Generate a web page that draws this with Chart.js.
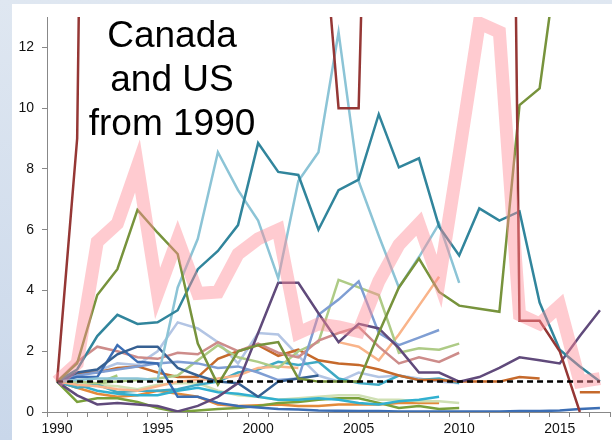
<!DOCTYPE html>
<html>
<head>
<meta charset="utf-8">
<script src="https://cdn.jsdelivr.net/npm/chart.js@4.4.0/dist/chart.umd.min.js"></script>
<style>
  html, body { margin: 0; padding: 0; }
  #frame {
    position: relative; width: 612px; height: 440px; overflow: hidden;
    background: linear-gradient(180deg, #dfe7f1 0%, #c9d7ea 100%);
  }
  #paper { position: absolute; left: 12px; top: 4px; right: 0; bottom: 0; background: #fff; }
  #wrap { position: absolute; left: 0; top: 0; width: 612px; height: 440px; }
</style>
</head>
<body>
<div id="frame">
  <div id="paper"></div>
  <div id="wrap"><canvas id="myChart" width="612" height="440"></canvas></div>
</div>
<script>
'use strict'

// tick labels / categories
const years = [1990, 1991, 1992, 1993, 1994, 1995, 1996, 1997, 1998, 1999,
	2000, 2001, 2002, 2003, 2004, 2005, 2006, 2007, 2008, 2009,
	2010, 2011, 2012, 2013, 2014, 2015, 2016, 2017]
const yTicks = [0, 2, 4, 6, 8, 10, 12]

// series, index relative to 1990 (values off the top are estimates)
const average = [1, 1.6, 5.6, 6.2, 8.1, 3.9, 5.7, 3.9, 3.95, 5.2, 5.7, 6.0, 2.6, 2.9, 2.8, 2.65, 4.3, 5.5, 6.2, 4.3, 8.5, 12.8, 12.5, 3.2, 2.9, 3.5, 1.0, 1.1]
const baseline = [1, 1, 1, 1, 1, 1, 1, 1, 1, 1, 1, 1, 1, 1, 1, 1, 1, 1, 1, 1, 1, 1, 1, 1, 1, 1, 1, 1]
const darkRed = [1, 9, 60, 60, 60, 60, 60, 60, 60, 60, 60, 60, 60, 18, 10, 10, 35, 60, 60, 60, 60, 60, 60, 3.0, 3.0, 2.0, 0]
const olive = [1, 1.6, 3.85, 4.7, 6.65, 5.9, 5.2, 2.25, 0.9, 2.0, 2.2, 2.3, 1.1, 1.0, 1.0, 1.0, 2.6, 4.1, 5.05, 3.95, 3.5, 3.4, 3.3, 10.1, 10.65, 15.5]
const skyBlue = [1, 1.05, 1.1, 1.1, 1.1, 1.05, 4.1, 5.7, 8.55, 7.3, 6.3, 4.4, 7.6, 8.55, 12.5, 7.6, 5.8, 4.1, 5.1, 6.2, 4.25]
const teal = [1, 1.4, 2.5, 3.2, 2.9, 2.95, 3.35, 4.7, 5.3, 6.15, 8.85, 7.9, 7.8, 6.0, 7.3, 7.65, 9.8, 8.05, 8.35, 6.1, 5.15, 6.7, 6.3, 6.6, 3.6, 2.05, 1.5, 1.0]
const purple = [1, 0.55, 0.25, 0.3, 0.25, 0.2, 0.02, 0.2, 0.5, 0.95, 2.6, 4.25, 4.25, 3.25, 2.3, 2.9, 2.75, 2.1, 1.3, 1.3, 1.0, 1.15, 1.45, 1.8, 1.7, 1.6, 2.5, 3.35]
const blueA = [1, 1.15, 1.15, 2.2, 1.65, 1.6, 0.5, 0.5, 0.3, 0.2, 0.15, 0.1, 0.08, 0.05, 0.04, 0.03, 0.03, 0.02, 0.02, 0.02, 0.02, 0.02, 0.02, 0.03, 0.03, 0.05, 0.1, 0.13]
const blueB = [1, 1.3, 1.4, 1.9, 2.15, 2.15, 1.45, 1.2, 1.0, 0.95, 0.5, 1.0, 1.1, 1.2]
const lavender = [1, 1.2, 1.35, 1.6, 1.55, 2.0, 2.95, 2.75, 2.3, 1.6, 2.6, 2.55, 1.85, 1.2, 1.0, 1.3, 1.15, 1.2, 1.1, 1.0, 0.95]
const periwinkle = [1, 1.2, 1.3, 1.4, 1.5, 1.6, 1.65, 1.6, 1.45, 1.5, 1.3, 1.05, 1.1, 3.2, 3.7, 4.3, 2.6, 2.2, 2.45, 2.7]
const rose = [1, 1.65, 2.15, 2.0, 1.8, 1.75, 1.95, 1.9, 2.3, 2.0, 2.25, 1.95, 1.8, 2.35, 2.6, 2.8, 2.15, 1.6, 1.8, 1.65, 1.95]
const lightGreen = [1, 1.0, 0.95, 1.0, 1.05, 1.1, 1.2, 1.7, 2.2, 1.8, 1.65, 1.45, 2.0, 2.3, 4.35, 4.1, 3.85, 1.95, 2.1, 2.05, 2.25]
const orange = [1, 1.28, 1.3, 1.45, 1.5, 1.3, 1.15, 1.15, 1.75, 2.0, 2.2, 1.85, 2.05, 1.7, 1.6, 1.55, 1.4, 1.2, 1.05, 1.05, 1.0, 1.0, 1.0, 1.15, 1.1, null, 0.65, 0.65]
const peach = [1, 0.9, 0.85, 0.75, 0.7, 0.85, 1.0, 1.05, 1.1, 1.2, 1.45, 1.5, 1.45, null, 2.3, 2.15, 1.7, 2.55, 3.5, 4.45]
const cyan = [1, 0.8, 0.9, 0.65, 0.7, 0.7, 0.75, 0.9, 1.0, 1.3, 1.4, 1.65, 1.55, 1.65, 1.1, 0.95, 0.9, 1.2, 1.05, 1.1, 0.95]
const cyanLow = [1, 0.9, 0.7, 0.6, 0.55, 0.55, 0.7, 0.8, 0.65, 0.6, 0.5, 0.4, 0.4, 0.45, 0.4, 0.3, 0.25, 0.35, 0.4, 0.5]
const paleGreen = [1, 0.95, 0.9, 0.85, 0.75, 0.9, 0.95, 0.95, 0.7, 0.55, 0.5, 0.4, 0.45, 0.5, 0.55, 0.55, 0.4, 0.4, 0.35, 0.35, 0.3]
const oliveLow = [1, 0.33, 0.45, 0.45, 0.33, 0.13, 0.0, 0.05, 0.1, 0.13, 0.2, 0.3, 0.33, 0.4, 0.45, 0.45, 0.3, 0.13, 0.2, 0.1, 0.13]
const orangeLow = [1, 0.8, 0.6, 0.5, 0.55, 0.7, 0.6, 0.5, 0.25, 0.2, 0.22, 0.25, 0.2, 0.2, 0.25, 0.25, 0.25, 0.3, 0.3, 0.3]
const shortGreen = [1, 0.95, 0.95, 1.2]

const titleLines = ['Canada', 'and US', 'from 1990']

function line(data, color, width) {
	return { data: data, borderColor: color, borderWidth: width || 2.5, pointRadius: 0, tension: 0, fill: false }
}

// first dataset is drawn on top
const datasets = [
	line(average, 'rgba(255,140,150,0.45)', 13),
	Object.assign(line(baseline, '#000', 2.5), { borderDash: [6, 4] }),
	line(darkRed, '#953735'),
	line(olive, '#77933C'),
	line(teal, '#31859C'),
	line(skyBlue, '#8CC4D6'),
	line(purple, '#604A7B'),
	line(blueB, '#366092'),
	line(blueA, '#3C6EB4'),
	line(periwinkle, '#7F9ED3'),
	line(rose, '#CD8C8A'),
	line(lightGreen, '#AECB86'),
	line(orange, '#C5692B'),
	line(peach, '#F9B48A'),
	line(cyan, '#3FA9C4'),
	line(lavender, '#B3C5E4'),
	line(cyanLow, '#31B0D0'),
	line(paleGreen, '#CFE0B4'),
	line(oliveLow, '#7AA03A'),
	line(orangeLow, '#E38A3A'),
	line(shortGreen, '#A6C97C')
]

const titlePlugin = {
	id: 'titleText',
	afterDraw(chart) {
		const ctx = chart.ctx
		ctx.save()
		ctx.fillStyle = '#000'
		ctx.font = '37px "Liberation Sans", Arial, sans-serif'
		ctx.textAlign = 'center'
		ctx.textBaseline = 'alphabetic'
		titleLines.forEach((t, i) => ctx.fillText(t, 172, 47 + i * 44))
		ctx.restore()
	}
}

const chartElement = document.querySelector('#myChart')
if (chartElement == null) {
	console.error('Chart not found.')
} else {
	new Chart(chartElement, {
		type: 'line',
		data: { labels: years, datasets: datasets },
		options: {
			responsive: false,
			animation: false,
			layout: { padding: { top: 17, right: 2, left: 0, bottom: 0 } },
			plugins: { legend: { display: false }, tooltip: { enabled: false } },
			scales: {
				x: {
					offset: true,
					grid: { offset: true, drawOnChartArea: false, drawTicks: true, tickLength: 5, color: '#888' },
					border: { color: '#888', width: 1 },
					ticks: {
						autoSkip: false, maxRotation: 0, padding: 4, color: '#111',
						font: { family: '"Liberation Sans", Arial, sans-serif', size: 14 },
						callback: (v, i) => (years[i] % 5 === 0 ? String(years[i]) : '')
					},
					afterFit: (scale) => { scale.height = 28 }
				},
				y: {
					min: 0, max: 13,
					grid: { drawOnChartArea: false, drawTicks: true, tickLength: 5, color: '#888' },
					border: { color: '#888', width: 1 },
					ticks: {
						stepSize: 2, includeBounds: false, padding: 8, color: '#111',
						font: { family: '"Liberation Sans", Arial, sans-serif', size: 14 },
						callback: (v) => (yTicks.includes(v) ? String(v) : '')
					},
					afterFit: (scale) => { scale.width = 47 }
				}
			}
		},
		plugins: [titlePlugin]
	})
}
</script>
</body>
</html>
